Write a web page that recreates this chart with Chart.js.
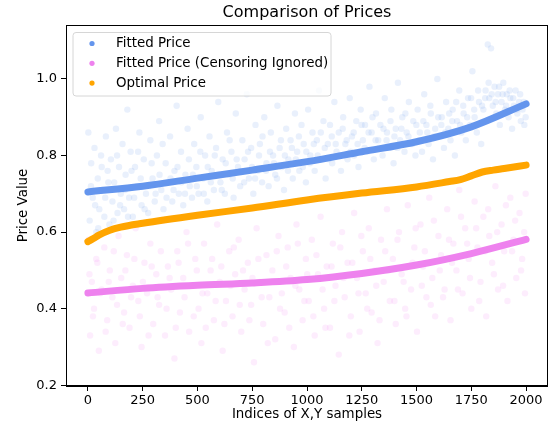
<!DOCTYPE html>
<html lang="en">
<head>
  <meta charset="UTF-8">
  <title>Comparison of Prices</title>
  <script src="https://cdn.jsdelivr.net/npm/chart.js"></script>
  <style>
    html, body {
      margin: 0;
      padding: 0;
      background: #fff;
      overflow: hidden;
    }
    canvas {
      display: block;
    }
  </style>
</head>
<body>
  <canvas id="myChart" width="552" height="433" style="width:552px;height:433px"></canvas>

  <script>
    // tick labels
    const xTicks = [0, 250, 500, 750, 1000, 1250, 1500, 1750, 2000];
    const yTicks = [0.2, 0.4, 0.6, 0.8, 1.0];
    const yTickLabels = ['0.2', '0.4', '0.6', '0.8', '1.0'];

    // fitted curves
    const fittedX = [0, 250, 500, 750, 1000, 1250, 1500, 1750, 2000];
    const fittedY = [0.705, 0.720, 0.741, 0.762, 0.784, 0.810, 0.836, 0.875, 0.935];

    const censorX = [0, 250, 500, 750, 1000, 1250, 1500, 1750, 2000];
    const censorY = [0.441, 0.453, 0.461, 0.467, 0.476, 0.492, 0.514, 0.544, 0.581];

    const optimalX = [0, 25, 50, 100, 150, 250, 500, 750, 1000, 1250, 1500, 1650, 1700, 1750, 1800, 1850, 1900, 2000];
    const optimalY = [0.575, 0.583, 0.592, 0.605, 0.613, 0.623, 0.644, 0.663, 0.684, 0.702, 0.718, 0.732, 0.737, 0.747, 0.757, 0.762, 0.766, 0.775];

    // faint sample clouds (rough estimate of the scattered points)
    const blueCloud = [
      [2,0.86],[8,0.63],[15,0.78],[22,0.69],[30,0.82],[38,0.60],[45,0.74],[52,0.66],[60,0.80],[68,0.71],
      [75,0.64],[82,0.85],[90,0.76],[98,0.62],[105,0.79],[112,0.68],[120,0.73],[128,0.87],[135,0.65],[142,0.77],
      [150,0.70],[158,0.83],[165,0.66],[172,0.75],[180,0.92],[188,0.69],[195,0.81],
      [205,0.64],[215,0.77],[225,0.72],[235,0.86],[245,0.67],[255,0.79],[265,0.70],[275,0.65],[285,0.84],
      [295,0.74],[305,0.68],[315,0.80],[325,0.89],[335,0.71],[345,0.66],[355,0.78],[365,0.73],[375,0.85],
      [385,0.68],[395,0.76],[405,0.93],[415,0.70],[425,0.81],[435,0.67],[445,0.75],[455,0.87],[465,0.72],
      [475,0.69],[485,0.83],[495,0.77],[505,0.70],[515,0.90],[525,0.74],[535,0.80],[545,0.68],[555,0.85],
      [565,0.76],[575,0.71],[585,0.82],[595,0.94],
      [605,0.73],[615,0.79],[625,0.70],[635,0.86],[645,0.75],[655,0.81],[665,0.69],[675,0.91],[685,0.77],
      [695,0.72],[705,0.84],[715,0.79],[725,0.96],[735,0.74],[745,0.82],[755,0.70],[765,0.88],[775,0.76],
      [785,0.83],[795,0.73],[805,0.90],[815,0.78],[825,0.72],[835,0.86],[845,0.80],[855,0.75],[865,0.93],
      [875,0.82],[885,0.77],[895,0.71],[905,0.87],[915,0.79],[925,0.84],[935,0.74],[945,0.91],[955,0.81],
      [965,0.76],[975,0.88],[985,0.83],[995,0.73],
      [1005,0.92],[1015,0.80],[1025,0.86],[1035,0.76],[1045,0.84],[1055,0.97],[1065,0.79],[1075,0.89],
      [1085,0.74],[1095,0.83],[1105,0.88],[1115,0.78],[1125,0.94],[1135,0.81],[1145,0.86],[1155,0.76],
      [1165,0.90],[1175,0.83],[1185,0.79],[1195,0.95],[1205,0.85],[1215,0.80],[1225,0.89],[1235,0.77],
      [1245,0.92],[1255,0.84],[1265,0.88],[1275,0.81],[1285,0.98],[1295,0.86],[1305,0.79],[1315,0.91],
      [1325,0.84],[1335,0.88],[1345,0.80],[1355,0.95],[1365,0.86],[1375,0.82],[1385,0.92],[1395,0.78],
      [1405,0.87],[1415,0.99],[1425,0.84],[1435,0.90],[1445,0.81],[1455,0.86],[1465,0.94],[1475,0.83],
      [1485,0.89],[1495,0.80],
      [1505,0.92],[1515,0.86],[1525,0.81],[1535,0.96],[1545,0.88],[1555,0.83],[1565,0.91],[1575,0.79],
      [1585,0.87],[1595,1.00],[1605,0.85],[1615,0.90],[1625,0.82],[1635,0.94],[1645,0.87],[1655,0.84],
      [1665,0.92],[1675,0.80],[1685,0.89],[1695,0.97],[1705,0.86],[1715,0.91],[1725,0.84],[1735,0.95],
      [1745,0.88],[1755,1.02],[1765,0.90],[1775,0.86],[1785,0.94],[1795,0.83],[1805,0.92],[1815,0.97],
      [1825,1.09],[1832,0.95],[1840,1.08],[1848,0.93],[1856,0.98],[1864,0.91],[1872,0.96],[1880,0.88],
      [1888,0.94],[1896,0.99],[1904,0.92],[1912,0.96],[1920,0.90],[1928,0.95],[1936,0.87],[1944,0.93],
      [1952,0.97],[1960,0.91],[1968,0.94],[1976,0.89],[1984,0.92],[1992,0.88],[1998,0.90],
      [14,0.72],[33,0.67],[47,0.61],[63,0.77],[79,0.69],[93,0.73],[117,0.63],[133,0.80],[147,0.67],[169,0.71],
      [183,0.64],[199,0.76],[211,0.69],[229,0.81],[241,0.74],[259,0.66],[277,0.72],[291,0.78],[309,0.70],
      [327,0.75],[341,0.83],[359,0.69],[377,0.74],[391,0.71],[409,0.77],[427,0.73],[443,0.70],[461,0.79],
      [479,0.75],[497,0.72],[513,0.81],[529,0.70],[547,0.77],[561,0.73],[579,0.80],[597,0.75],[611,0.71],
      [629,0.78],[647,0.84],[661,0.74],[679,0.79],[697,0.76],[713,0.73],[731,0.81],[749,0.77],[763,0.74],
      [781,0.80],[797,0.85],[813,0.76],[831,0.81],[849,0.78],[863,0.74],[881,0.84],[899,0.80],[913,0.76],
      [931,0.82],[949,0.79],[963,0.85],[981,0.77],[997,0.81],[1013,0.78],[1031,0.83],[1049,0.80],[1063,0.86],
      [1081,0.82],[1099,0.79],[1113,0.85],[1131,0.83],[1149,0.80],[1163,0.87],[1181,0.84],[1199,0.81],
      [1213,0.86],[1231,0.83],[1249,0.88],[1263,0.82],[1281,0.86],[1299,0.90],[1313,0.84],[1331,0.82],
      [1349,0.87],[1363,0.84],[1381,0.89],[1399,0.85],[1413,0.82],[1431,0.87],[1449,0.91],[1463,0.85],
      [1481,0.83],[1499,0.88],[1513,0.84],[1531,0.89],[1549,0.86],[1563,0.93],[1581,0.85],[1599,0.90],
      [1613,0.88],[1631,0.86],[1649,0.91],[1663,0.89],[1681,0.94],[1699,0.88],[1713,0.93],[1731,0.90],
      [1749,0.95],[1763,0.92],[1781,0.97],[1799,0.93],[1813,0.95],[1829,0.99],[1843,0.96],[1861,0.94],
      [1877,0.98],[1893,0.96],[1909,0.93],[1925,0.97],[1941,0.95],[1957,0.92],[1973,0.96],[1989,0.94]
    ];

    const pinkCloud = [
      [3,0.58],[10,0.33],[18,0.47],[28,0.40],[38,0.53],[50,0.29],[62,0.45],[75,0.56],[88,0.37],[100,0.50],
      [112,0.43],[125,0.31],[140,0.59],[152,0.48],[165,0.39],[178,0.54],[190,0.35],[205,0.46],[218,0.61],
      [230,0.42],[245,0.30],[258,0.52],[270,0.44],[285,0.57],[298,0.36],[312,0.49],[325,0.41],[340,0.63],
      [352,0.33],[365,0.51],[380,0.45],[395,0.27],[408,0.55],[420,0.39],[435,0.48],[450,0.60],[462,0.34],
      [475,0.46],[490,0.53],[505,0.40],[518,0.31],[530,0.57],[545,0.44],[560,0.50],[575,0.37],[590,0.62],
      [602,0.47],[615,0.29],[630,0.42],[645,0.55],[660,0.38],[672,0.49],[688,0.58],[700,0.34],[715,0.45],
      [730,0.52],[745,0.41],[758,0.26],[770,0.61],[785,0.47],[800,0.36],[815,0.54],[828,0.43],[842,0.50],
      [855,0.32],[870,0.59],[885,0.44],[898,0.39],[912,0.56],[925,0.48],[940,0.30],[952,0.62],[965,0.45],
      [980,0.37],[995,0.53],[1008,0.42],[1022,0.58],[1035,0.33],[1050,0.49],[1062,0.64],[1078,0.40],
      [1090,0.51],[1105,0.35],[1118,0.57],[1130,0.46],[1145,0.28],[1160,0.60],[1172,0.43],[1185,0.52],
      [1200,0.38],[1215,0.65],[1228,0.48],[1240,0.34],[1255,0.55],[1268,0.44],[1282,0.61],[1295,0.39],
      [1310,0.50],[1322,0.31],[1338,0.58],[1350,0.47],[1365,0.66],[1378,0.42],[1392,0.53],[1405,0.36],
      [1420,0.60],[1432,0.49],[1448,0.40],[1460,0.67],[1475,0.45],[1490,0.56],[1502,0.34],[1518,0.62],
      [1530,0.51],[1545,0.43],[1558,0.69],[1572,0.48],[1585,0.38],[1600,0.59],[1612,0.54],[1628,0.45],
      [1640,0.66],[1655,0.37],[1668,0.57],[1682,0.50],[1695,0.71],[1710,0.44],[1722,0.61],[1738,0.53],
      [1750,0.40],[1765,0.68],[1778,0.56],[1792,0.47],[1805,0.64],[1818,0.38],[1832,0.59],[1845,0.52],
      [1860,0.72],[1872,0.45],[1888,0.62],[1900,0.55],[1915,0.42],[1928,0.69],[1942,0.58],[1955,0.48],
      [1970,0.65],[1982,0.53],[1995,0.44],[1998,0.70],
      [7,0.49],[23,0.38],[43,0.52],[57,0.44],[81,0.34],[95,0.47],[118,0.55],[133,0.41],[159,0.36],[171,0.50],
      [197,0.43],[212,0.53],[237,0.38],[251,0.47],[277,0.33],[291,0.51],[318,0.43],[333,0.55],[359,0.40],
      [373,0.48],[401,0.35],[414,0.52],[441,0.43],[457,0.57],[483,0.38],[497,0.50],[523,0.44],[538,0.35],
      [567,0.53],[583,0.42],[609,0.51],[623,0.36],[651,0.46],[666,0.56],[693,0.41],[708,0.50],[737,0.37],
      [751,0.48],[778,0.53],[793,0.43],[821,0.31],[835,0.47],[862,0.55],[877,0.40],[905,0.51],[919,0.35],
      [947,0.46],[958,0.57],[988,0.42],[1001,0.49],[1029,0.38],[1043,0.54],[1071,0.45],[1084,0.35],
      [1112,0.51],[1125,0.42],[1152,0.56],[1167,0.48],[1193,0.33],[1207,0.52],[1235,0.44],[1248,0.59],
      [1275,0.40],[1289,0.53],[1316,0.46],[1331,0.37],[1357,0.55],[1371,0.50],[1399,0.42],[1413,0.58],
      [1441,0.47],[1454,0.38],[1482,0.52],[1496,0.61],[1524,0.46],[1538,0.55],[1565,0.41],[1579,0.63],
      [1606,0.50],[1621,0.43],[1648,0.58],[1662,0.52],[1689,0.45],[1703,0.64],[1731,0.57],[1744,0.48],
      [1772,0.61],[1786,0.42],[1813,0.55],[1827,0.66],[1853,0.49],[1868,0.60],[1895,0.46],[1908,0.67],
      [1936,0.55],[1950,0.63],[1977,0.50],[1991,0.60]
    ];

    const BLUE = '#6495ED';
    const PINK = '#EE82EE';
    const ORANGE = '#FFA500';
    const FONT = "'DejaVu Sans', sans-serif";

    function toPoints(xs, ys) {
      return xs.map((x, i) => ({ x: x, y: ys[i] }));
    }

    // title over the axes, box around the plot, legend in the upper left corner
    const framePlugin = {
      id: 'frame',
      afterDraw(chart) {
        const ctx = chart.ctx;
        const a = chart.chartArea;
        ctx.save();
        ctx.strokeStyle = '#000';
        ctx.lineWidth = 1;
        ctx.strokeRect(a.left + 0.5, a.top + 0.5, a.right - a.left - 1, a.bottom - a.top - 1);

        ctx.fillStyle = '#000';
        ctx.font = '16px ' + FONT;
        ctx.textAlign = 'center';
        ctx.textBaseline = 'middle';
        ctx.fillText('Comparison of Prices', (a.left + a.right) / 2, 13);

        const items = chart.data.datasets.filter(d => d.inLegend);
        const bx = 73, by = 32.5, bw = 258, bh = 63.5, r = 3;
        ctx.beginPath();
        ctx.roundRect(bx, by, bw, bh, r);
        ctx.fillStyle = 'rgba(255,255,255,0.8)';
        ctx.fill();
        ctx.strokeStyle = '#d6d6d6';
        ctx.stroke();

        ctx.font = '13.4px ' + FONT;
        ctx.textAlign = 'left';
        items.forEach((d, i) => {
          const y = 43.5 + i * 19.8;
          ctx.beginPath();
          ctx.arc(92, y, 2.6, 0, Math.PI * 2);
          ctx.fillStyle = d.borderColor;
          ctx.fill();
          ctx.fillStyle = '#000';
          ctx.fillText(d.label, 116, y + 0.5);
        });
        ctx.restore();
      }
    };

    const ctx = document.getElementById('myChart').getContext('2d');
    new Chart(ctx, {
      type: 'scatter',
      data: {
        datasets: [
          {
            label: 'Fitted Price',
            inLegend: true,
            type: 'line',
            data: toPoints(fittedX, fittedY),
            borderColor: BLUE,
            backgroundColor: BLUE,
            borderWidth: 7,
            borderCapStyle: 'round',
            pointRadius: 0,
            cubicInterpolationMode: 'monotone',
            order: 2
          },
          {
            label: 'Fitted Price (Censoring Ignored)',
            inLegend: true,
            type: 'line',
            data: toPoints(censorX, censorY),
            borderColor: PINK,
            backgroundColor: PINK,
            borderWidth: 7,
            borderCapStyle: 'round',
            pointRadius: 0,
            cubicInterpolationMode: 'monotone',
            order: 1
          },
          {
            label: 'Optimal Price',
            inLegend: true,
            type: 'line',
            data: toPoints(optimalX, optimalY),
            borderColor: ORANGE,
            backgroundColor: ORANGE,
            borderWidth: 7,
            borderCapStyle: 'round',
            pointRadius: 0,
            cubicInterpolationMode: 'monotone',
            order: 0
          },
          {
            label: 'samples',
            data: blueCloud.map(p => ({ x: p[0], y: p[1] })),
            backgroundColor: 'rgba(100,149,237,0.14)',
            borderWidth: 0,
            pointRadius: 3.2,
            order: 11
          },
          {
            label: 'samples (censoring ignored)',
            data: pinkCloud.map(p => ({ x: p[0], y: p[1] })),
            backgroundColor: 'rgba(238,130,238,0.14)',
            borderWidth: 0,
            pointRadius: 3.2,
            order: 10
          }
        ]
      },
      options: {
        responsive: false,
        animation: false,
        layout: { padding: { top: 25, right: 2 } },
        plugins: {
          legend: { display: false },
          tooltip: { enabled: false },
          title: { display: false }
        },
        scales: {
          x: {
            type: 'linear',
            min: -100,
            max: 2100,
            afterBuildTicks(scale) {
              scale.ticks = xTicks.map(v => ({ value: v }));
            },
            afterFit(scale) { scale.height = 47; },
            ticks: {
              color: '#000',
              font: { family: FONT, size: 13 },
              padding: 2,
              maxRotation: 0,
              callback: v => String(v)
            },
            grid: { drawOnChartArea: false, drawTicks: true, tickLength: 5, color: '#000' },
            border: { display: true, color: '#000', width: 1 },
            title: {
              display: true,
              text: 'Indices of X,Y samples',
              color: '#000',
              font: { family: FONT, size: 13.4 },
              padding: { top: 0, bottom: 10 }
            }
          },
          y: {
            type: 'linear',
            min: 0.198,
            max: 1.141,
            afterBuildTicks(scale) {
              scale.ticks = yTicks.map(v => ({ value: v }));
            },
            afterFit(scale) { scale.width = 66; },
            ticks: {
              color: '#000',
              font: { family: FONT, size: 13 },
              padding: 4,
              callback: v => yTickLabels[yTicks.findIndex(t => Math.abs(t - v) < 1e-6)]
            },
            grid: { drawOnChartArea: false, drawTicks: true, tickLength: 5, color: '#000' },
            border: { display: true, color: '#000', width: 1 },
            title: {
              display: true,
              text: 'Price Value',
              color: '#000',
              font: { family: FONT, size: 13.4 },
              padding: { top: 15, bottom: 0 }
            }
          }
        }
      },
      plugins: [framePlugin]
    });
  </script>
</body>
</html>
